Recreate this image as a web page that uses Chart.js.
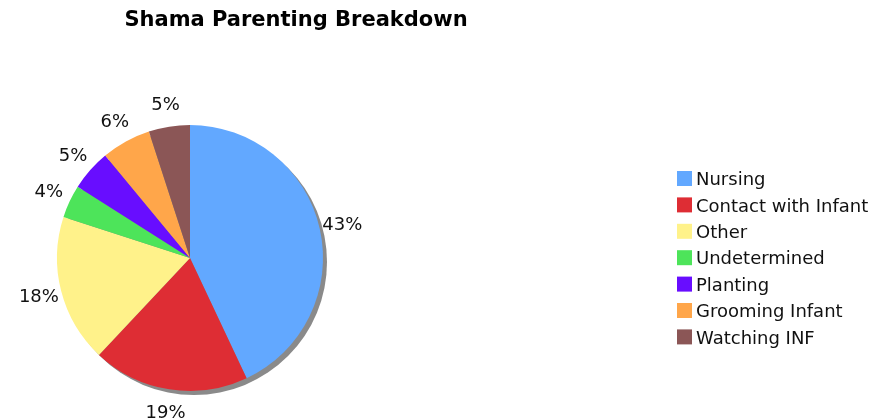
<!DOCTYPE html>
<html>
<head>
<meta charset="utf-8">
<title>Shama Parenting Breakdown</title>
<script src="https://cdn.jsdelivr.net/npm/chart.js@4/dist/chart.umd.min.js"></script>
<style>
  html, body { margin: 0; padding: 0; background: #fff; }
  #wrap { width: 877px; height: 420px; }
</style>
</head>
<body>
<div id="wrap"><canvas id="myChart" width="877" height="420"></canvas></div>
<script>
const chartTitle = "Shama Parenting Breakdown";
const categories = [
  "Nursing",
  "Contact with Infant",
  "Other",
  "Undetermined",
  "Planting",
  "Grooming Infant",
  "Watching INF",
];
const percentages = [43, 19, 18, 4, 5, 6, 5];
const sliceColors = [
  "#62a8ff",
  "#de2d34",
  "#fff28a",
  "#4de45a",
  "#680dff",
  "#ffa64a",
  "#8b5656",
];

const FONT = "'DejaVu Sans', Verdana, sans-serif";

// gray drop shadow under the pie, offset down and right
const pieShadow = {
  id: "pieShadow",
  beforeDatasetsDraw(chart) {
    const arc = chart.getDatasetMeta(0).data[0];
    if (!arc) return;
    const { ctx } = chart;
    ctx.save();
    ctx.fillStyle = "#8a8a8a";
    ctx.beginPath();
    ctx.arc(arc.x + 4, arc.y + 4, arc.outerRadius, 0, Math.PI * 2);
    ctx.fill();
    ctx.restore();
  },
};

// percentage text outside each slice, on its middle angle
const sliceLabels = {
  id: "sliceLabels",
  afterDatasetsDraw(chart) {
    const { ctx } = chart;
    const values = chart.data.datasets[0].data;
    ctx.save();
    ctx.font = "18px " + FONT;
    ctx.fillStyle = "#111";
    ctx.textAlign = "center";
    ctx.textBaseline = "middle";
    chart.getDatasetMeta(0).data.forEach((arc, i) => {
      const mid = (arc.startAngle + arc.endAngle) / 2;
      const r = arc.outerRadius + 23;
      ctx.fillText(values[i] + "%", arc.x + Math.cos(mid) * r, arc.y + Math.sin(mid) * r + 1);
    });
    ctx.restore();
  },
};

// title and legend drawn on the canvas next to the pie
const sideText = {
  id: "sideText",
  afterDraw(chart) {
    const { ctx } = chart;
    ctx.save();
    ctx.fillStyle = "#000";
    ctx.font = "bold 21px " + FONT;
    ctx.textAlign = "center";
    ctx.textBaseline = "middle";
    ctx.fillText(chartTitle, 296, 21);

    ctx.font = "18px " + FONT;
    ctx.textAlign = "left";
    const colors = chart.data.datasets[0].backgroundColor;
    chart.data.labels.forEach((label, i) => {
      const y = 178.5 + i * 26.4;
      ctx.fillStyle = colors[i];
      ctx.fillRect(677, y - 7.5, 15, 15);
      ctx.fillStyle = "#111";
      ctx.fillText(label, 696, y + 2);
    });
    ctx.restore();
  },
};

new Chart(document.getElementById("myChart"), {
  type: "pie",
  data: {
    labels: categories,
    datasets: [
      {
        data: percentages,
        backgroundColor: sliceColors,
        borderWidth: 0,
      },
    ],
  },
  options: {
    responsive: false,
    animation: false,
    layout: {
      padding: { left: 57, right: 554, top: 124, bottom: 28 },
    },
    plugins: {
      legend: { display: false },
      title: { display: false },
      tooltip: { enabled: false },
    },
  },
  plugins: [pieShadow, sliceLabels, sideText],
});
</script>
</body>
</html>
